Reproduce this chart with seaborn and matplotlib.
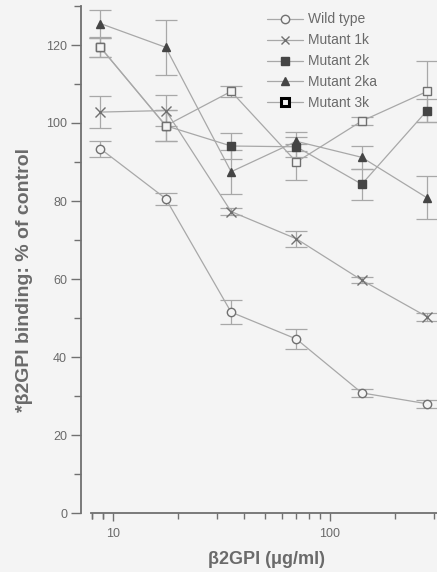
import numpy as np
import pandas as pd
import matplotlib
matplotlib.use("Agg")
import matplotlib.pyplot as plt
from matplotlib.lines import Line2D
from matplotlib.ticker import FixedLocator, NullFormatter
import seaborn as sns

# doses (ug/ml)
dose = [8.75, 17.5, 35, 70, 140, 280]

series_names = ["Wild type", "Mutant 1k", "Mutant 2k", "Mutant 2ka", "Mutant 3k"]
wild_type = [93.4, 80.6, 51.5, 44.6, 30.8, 28.0]
wild_type_err = [2.0, 1.5, 3.0, 2.5, 1.0, 1.0]
mutant_1k = [102.8, 103.2, 77.3, 70.3, 59.7, 50.3]
mutant_1k_err = [4.0, 4.0, 1.0, 2.0, 0.8, 1.0]
mutant_2k = [119.4, 99.3, 94.1, 93.9, 84.3, 103.2]
mutant_2k_err = [2.5, 4.0, 3.3, 2.5, 4.0, 3.0]
mutant_2ka = [125.5, 119.4, 87.5, 95.3, 91.2, 80.8]
mutant_2ka_err = [3.5, 7.0, 5.6, 2.5, 3.0, 5.5]
mutant_3k = [119.4, 99.3, 108.1, 90.0, 100.5, 108.1]
mutant_3k_err = [2.5, 4.0, 1.5, 4.5, 1.0, 7.8]

values = [wild_type, mutant_1k, mutant_2k, mutant_2ka, mutant_3k]
errors = [wild_type_err, mutant_1k_err, mutant_2k_err, mutant_2ka_err, mutant_3k_err]

markers = ["o", "x", "s", "^", "s"]
filled = [False, False, True, True, False]

bg = "#f4f4f4"
line_c = "#a8a8a8"
text_c = "#6a6a6a"
dark = "#454545"

sns.set_style("ticks")
plt.rcParams["font.family"] = ["Liberation Sans", "DejaVu Sans"]

fig = plt.figure(figsize=(4.37, 5.72), dpi=100, facecolor=bg)
ax = fig.add_axes([81 / 437, 59 / 572, 1 - 81 / 437, (572 - 59 - 6) / 572])
ax.set_facecolor(bg)

rows = []
for name, v in zip(series_names, values):
    for d, y in zip(dose, v):
        rows.append({"dose": d, "binding": y, "series": name})
df = pd.DataFrame(rows)

# error bars (precomputed SEM)
for name, v, e in zip(series_names, values, errors):
    ax.errorbar(dose, v, yerr=e, fmt="none", ecolor=line_c, elinewidth=0.9,
                capsize=8, capthick=0.9, zorder=1)

for i, name in enumerate(series_names):
    sub = df[df["series"] == name]
    mfc = dark if filled[i] else bg
    mec = dark if filled[i] else "#707070"
    sns.lineplot(data=sub, x="dose", y="binding", ax=ax, color=line_c,
                 linewidth=0.9, marker=markers[i], markersize=6 if markers[i] != "x" else 7,
                 markerfacecolor=mfc, markeredgecolor=mec,
                 markeredgewidth=1.0, legend=False, zorder=3)

ax.set_xscale("log")
ax.set_xlim(7.12, 311)
ax.set_ylim(0, 130)
ax.set_xticks([10, 100])
ax.set_xticklabels(["10", "100"])
minor = [d * m for d in (1, 10, 100) for m in range(2, 10)] + [8, 9]
ax.xaxis.set_minor_locator(FixedLocator([t for t in minor if 7.9 <= t <= 311]))
ax.xaxis.set_minor_formatter(NullFormatter())
ax.set_yticks(range(0, 121, 20))
ax.yaxis.set_minor_locator(FixedLocator(range(10, 131, 20)))

for s in ["top", "right"]:
    ax.spines[s].set_visible(False)
for s in ["left", "bottom"]:
    ax.spines[s].set_color("#707070")
    ax.spines[s].set_linewidth(1.3)
ax.spines["left"].set_bounds(0, 130)
ax.spines["bottom"].set_bounds(7.9, 311)

ax.tick_params(axis="y", which="major", length=7, width=1.0, color="#707070",
               labelcolor=text_c, labelsize=9, pad=3)
ax.tick_params(axis="y", which="minor", length=5, width=1.0, color="#707070")
ax.tick_params(axis="x", which="major", length=6, width=1.0, color="#707070",
               labelcolor=text_c, labelsize=9, pad=5)
ax.tick_params(axis="x", which="minor", length=4, width=1.0, color="#707070")

ax.set_xlabel("β2GPI (μg/ml)", fontsize=13, fontweight="bold", color=text_c)
ax.set_ylabel("*β2GPI binding: % of control", fontsize=14, fontweight="bold",
              color=text_c)
ax.xaxis.set_label_coords(0.522, -0.075)
ax.yaxis.set_label_coords(-0.135, 0.46)

handles = []
for i, name in enumerate(series_names):
    mfc = dark if filled[i] else bg
    mec = dark if filled[i] else "#707070"
    mew = 1.0
    if name == "Mutant 3k":
        mec, mew = "black", 2.2
    handles.append(Line2D([0], [0], color=line_c, linewidth=0.9, marker=markers[i],
                          markersize=6, markerfacecolor=mfc, markeredgecolor=mec,
                          markeredgewidth=mew))
leg = fig.legend(handles, series_names, loc="upper left",
                 bbox_to_anchor=(267 / 437, (572 - 12.5) / 572),
                 frameon=False, fontsize=10, labelspacing=0.5, handlelength=2.6,
                 handletextpad=0.35, borderpad=0, borderaxespad=0, labelcolor=text_c)

fig.savefig("out.png", dpi=100, facecolor=bg)
